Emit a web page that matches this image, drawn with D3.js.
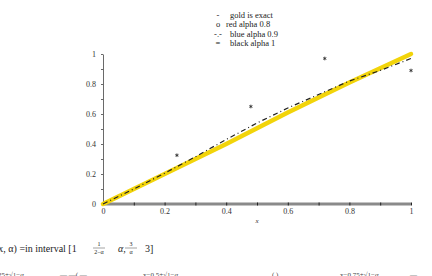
<!DOCTYPE html>
<html>
<head>
<meta charset="utf-8">
<script src="https://cdn.jsdelivr.net/npm/d3@7"></script>
<style>
  body { margin: 0; background: #fff; }
  svg { display: block; }
  text { font-family: "Liberation Serif", "DejaVu Serif", serif; }
</style>
</head>
<body>
<svg id="chart" width="432" height="276"></svg>
<script>
// data
const xValues = [0, 0.1, 0.2, 0.3, 0.4, 0.5, 0.6, 0.7, 0.8, 0.9, 1];
const goldExact = [0, 0.1, 0.2, 0.3, 0.4, 0.505, 0.61, 0.71, 0.81, 0.905, 1.0];
const blueAlpha09 = [0, 0.1, 0.205, 0.315, 0.43, 0.54, 0.64, 0.73, 0.82, 0.89, 0.97];
const blackAlpha1 = [[0.24, 0.325], [0.48, 0.65], [0.72, 0.97], [1.0, 0.89]];
const tickValues = [0, 0.1, 0.2, 0.3, 0.4, 0.5, 0.6, 0.7, 0.8, 0.9, 1];
const legendItems = [
  { mark: "-", label: "gold is exact" },
  { mark: "o", label: "red alpha 0.8" },
  { mark: "-.-", label: "blue alpha 0.9" },
  { mark: "=", label: "black alpha 1" }
];

const svg = d3.select("#chart");

const x = d3.scaleLinear().domain([0, 1]).range([103, 411]);
const y = d3.scaleLinear().domain([0, 1]).range([204, 54]);

const fmt = d => (Math.round(d * 10) % 2 === 0 ? d3.format("~g")(d) : "");

// caption of the figure, cut off at the top of the page
svg.append("text")
  .attr("x", 150).attr("y", -3)
  .attr("font-size", 10).attr("fill", "#222")
  .text("Fig. 1  Exact and approximate solution of   u(x, α),  y(x, α)  for");

// x axis: thick grey line
svg.append("line")
  .attr("x1", x(0)).attr("x2", x(1))
  .attr("y1", y(0)).attr("y2", y(0))
  .attr("stroke", "#8a8a8a").attr("stroke-width", 3);

const xAxis = svg.append("g")
  .attr("transform", `translate(0,${y(0) - 1.5})`)
  .call(d3.axisBottom(x).tickValues(tickValues).tickFormat(fmt).tickSize(3).tickSizeOuter(0));
xAxis.select(".domain").remove();
xAxis.selectAll(".tick line").attr("stroke", "#222");
xAxis.selectAll(".tick text")
  .attr("font-family", "Liberation Serif, serif")
  .attr("font-size", 8).attr("fill", "#333")
  .attr("y", 6);

svg.append("text")
  .attr("x", 257).attr("y", 223)
  .attr("font-size", 7).attr("font-style", "italic").attr("fill", "#333")
  .attr("text-anchor", "middle")
  .text("x");

// y axis
const yAxis = svg.append("g")
  .attr("transform", `translate(${x(0)},0)`)
  .call(d3.axisLeft(y).tickValues(tickValues).tickFormat(fmt).tickSize(2).tickSizeOuter(0));
yAxis.select(".domain").attr("stroke", "#444").attr("stroke-width", 0.8);
yAxis.selectAll(".tick line").attr("stroke", "#444").attr("stroke-width", 0.8);
yAxis.selectAll(".tick text")
  .attr("font-family", "Liberation Serif, serif")
  .attr("font-size", 8).attr("fill", "#333")
  .attr("x", -7);

// lines
const line = d3.line().x(d => x(d[0])).y(d => y(d[1]));

svg.append("path")
  .datum(xValues.map((v, i) => [v, goldExact[i]]))
  .attr("d", line)
  .attr("fill", "none")
  .attr("stroke", "#f2d40a").attr("stroke-width", 4.5)
  .attr("stroke-linecap", "round");

svg.append("path")
  .datum(xValues.map((v, i) => [v, blueAlpha09[i]]))
  .attr("d", line)
  .attr("fill", "none")
  .attr("stroke", "#222").attr("stroke-width", 1.2)
  .attr("stroke-dasharray", "5,3,1,3");

svg.selectAll(".star")
  .data(blackAlpha1)
  .join("path")
  .attr("class", "star")
  .attr("transform", d => `translate(${x(d[0])},${y(d[1])})`)
  .attr("d", d3.symbol(d3.symbolAsterisk, 9))
  .attr("fill", "none")
  .attr("stroke", "#333").attr("stroke-width", 0.9);

// legend
const legend = svg.append("g");
legendItems.forEach((d, i) => {
  const ly = 18 + i * 9.3;
  legend.append("text")
    .attr("x", 218).attr("y", ly)
    .attr("text-anchor", "middle")
    .attr("font-size", 8.5).attr("fill", "#222")
    .text(d.mark);
  legend.append("text")
    .attr("x", i === 1 ? 226 : 230).attr("y", ly)
    .attr("font-size", 8.5).attr("fill", "#222")
    .text(d.label);
});

// text of the document below the figure
svg.append("text")
  .attr("x", -5).attr("y", 252)
  .attr("font-size", 10).attr("fill", "#222")
  .text("(x, α) =in interval [1");

const frac = (fx, num, den) => {
  svg.append("text").attr("x", fx).attr("y", 246).attr("font-size", 6)
    .attr("text-anchor", "middle").attr("fill", "#222").text(num);
  svg.append("line").attr("x1", fx - 6).attr("x2", fx + 6)
    .attr("y1", 248).attr("y2", 248).attr("stroke", "#444").attr("stroke-width", 0.5);
  svg.append("text").attr("x", fx).attr("y", 254).attr("font-size", 6)
    .attr("text-anchor", "middle").attr("fill", "#222").text(den);
};
frac(99, "1", "2−α");
svg.append("text").attr("x", 118).attr("y", 252).attr("font-size", 10)
  .attr("font-style", "italic").attr("fill", "#222").text("α,");
frac(131, "3", "α");
svg.append("text").attr("x", 145).attr("y", 252).attr("font-size", 10)
  .attr("fill", "#222").text("3]");

const bottomBits = [
  { x: -2, t: "25+√1−α" },
  { x: 60, t: "—  —(  —" },
  { x: 143, t: "x−0.5+√1−α" },
  { x: 272, t: "(       )" },
  { x: 340, t: "x−0.75+√1−α" },
  { x: 410, t: "—" }
];
svg.selectAll(".bottom")
  .data(bottomBits)
  .join("text")
  .attr("class", "bottom")
  .attr("x", d => d.x).attr("y", 277)
  .attr("font-size", 7).attr("fill", "#444")
  .text(d => d.t);
</script>
</body>
</html>
